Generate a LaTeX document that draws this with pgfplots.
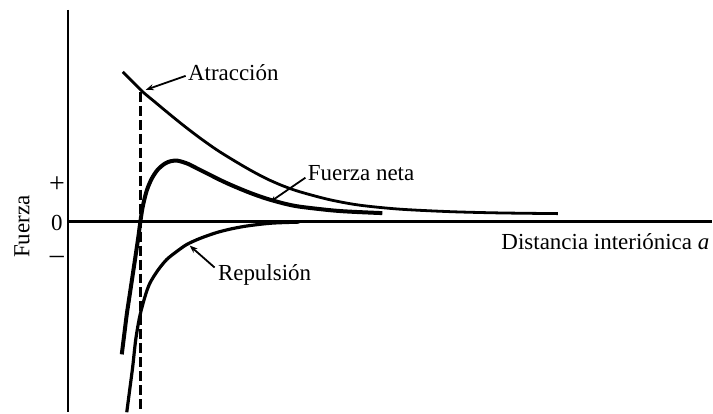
\documentclass[border=0pt]{standalone}
\usepackage{pgfplots}
\pgfplotsset{compat=1.18}
\usepackage{fontspec}
\setmainfont{Liberation Serif}
\usetikzlibrary{arrows.meta}
\begin{document}
\begin{tikzpicture}
\begin{axis}[
  scale only axis, width=356.5pt, height=206.5pt,
  xmin=0, xmax=713, ymin=0, ymax=413, y dir=reverse,
  axis lines=none, clip=false,
  font=\fontsize{11.5}{14}\selectfont,
]
% bounding box
\draw[draw=none] (axis cs:0,0) rectangle (axis cs:713,413);
% axes
\addplot[black, line width=1.3pt] coordinates {(68,10) (68,413)};
\addplot[black, line width=1.3pt] coordinates {(68,222) (713,222)};
% attraction
\addplot[black, line width=1.4pt, smooth] coordinates {
(123,72) (133,82) (143,92) (155,102) (167,112) (183,125) (200,138) (217,150)
(233,160) (250,170) (267,179) (283,186) (300,192) (330,200) (360,205.5)
(400,209.5) (450,212) (500,213.3) (559,214)};
% net force
\addplot[black, line width=2pt, smooth] coordinates {
(122,355) (124.5,335) (127,315) (130,295) (133,275) (136,255) (138.5,238)
(140.5,223) (143,207) (147,191) (152,179) (158,170) (165,164) (171,161.5)
(178,161) (188,164) (198,169) (210,175) (222,181) (233,186) (250,193)
(267,199) (285,204) (300,207) (330,210.5) (350,212) (383,213.5)};
% repulsion
\addplot[black, line width=1.6pt, smooth] coordinates {
(127,413) (130,390) (133,367) (136,340) (140,317) (145,298) (150,284)
(158,271) (167,260) (177,252) (187,245) (200,239) (217,233) (233,229)
(250,226) (273,223.5) (300,222.5)};
% dashed equilibrium line
\addplot[black, line width=1.4pt, dash pattern=on 5pt off 2pt] coordinates {(141,92) (141,413)};
% labels
\node[anchor=west, inner sep=0pt] at (axis cs:188,73) {Atracción};
\draw[line width=0.9pt, -{Stealth[length=4pt,width=3pt]}] (axis cs:186,76) -- (axis cs:146,90);
\node[anchor=west, inner sep=0pt] at (axis cs:308,173) {Fuerza neta};
\draw[line width=0.9pt, -{Stealth[length=3pt,width=2.5pt]}] (axis cs:306,178) -- (axis cs:271,202);
\node[anchor=west, inner sep=0pt] at (axis cs:218,275) {Repulsión};
\draw[line width=0.9pt, -{Stealth[length=4pt,width=3pt]}] (axis cs:215,268) -- (axis cs:190,246);
\node[anchor=west, inner sep=0pt] at (axis cs:502,242) {Distancia interiónica \textit{a}};
\node[rotate=90, inner sep=0pt] at (axis cs:22,227) {Fuerza};
\node[inner sep=0pt] at (axis cs:57,185) {\fontsize{14}{16}\selectfont +};
\node[inner sep=0pt] at (axis cs:57,223) {0};
\node[inner sep=0pt] at (axis cs:57,260) {\fontsize{14}{16}\selectfont \textendash};
\end{axis}
\end{tikzpicture}
\end{document}
